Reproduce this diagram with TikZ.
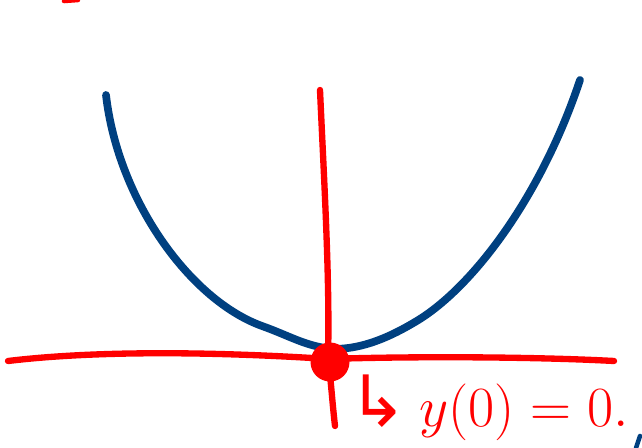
\documentclass[tikz,border=0pt]{standalone}
\usepackage{fontspec}
\newfontfamily\arrowfont{DejaVu Sans}
\usepackage{tikz}
\usetikzlibrary{positioning}
\definecolor{penblue}{RGB}{0, 64, 128}
\definecolor{penred}{RGB}{255, 0, 0}

\begin{document}
\begin{tikzpicture}[x=0.02cm, y=-0.02cm,
    curve_ink/.style={draw=penblue, line width=4.4pt, line cap=round, line join=round},
    axis_ink/.style={draw=penred, line width=3.6pt, line cap=round, line join=round},
    root_dot/.style={circle, fill=penred, minimum size=0.78cm, inner sep=0pt},
    note/.style={text=penred, font=\fontsize{31}{36}\selectfont, inner sep=0pt, anchor=west},
]

% --- Marco ---
\useasboundingbox (0,0) rectangle (642,448);

% --- Coordenadas ---
\coordinate (O) at (328,359);

% --- Ejes ---
\draw[axis_ink] (8,361) .. controls (100,350) and (220,352) .. (O)
    .. controls (420,356) and (540,357) .. (614,361);
\draw[axis_ink] (320,90) .. controls (324,180) and (330,280) .. (O)
    .. controls (331,380) and (332,400) .. (335,426);

% --- Parabola ---
\draw[curve_ink] (106,95) .. controls (118,200) and (190,300) .. (262,326)
    .. controls (290,336) and (305,346) .. (332,349)
    .. controls (350,349) and (375,346) .. (415,322)
    .. controls (470,290) and (540,200) .. (580,80);

% --- Punto en el origen ---
\node[root_dot] (root) at (330,362) {};

% --- Nota ---
\node[note] (cond) at (348,408) {\scalebox{1.3}{{\arrowfont ↳}\,$y(0)=0.$}};

% --- Trazos sueltos ---
\draw[axis_ink, line width=2.6pt] (64,1) -- (78,0);
\draw[curve_ink, line width=2.6pt] (636,448) -- (640,436);

\end{tikzpicture}
\end{document}
